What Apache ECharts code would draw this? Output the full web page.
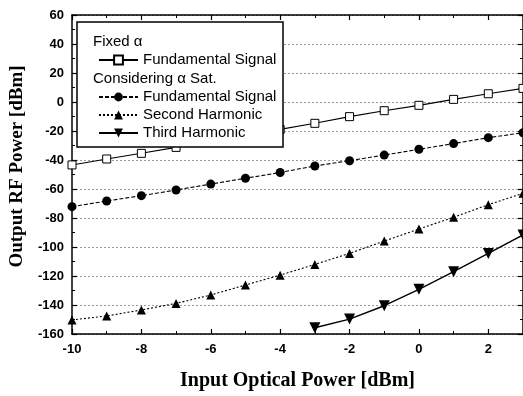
<!DOCTYPE html>
<html>
<head>
<meta charset="utf-8">
<script src="https://cdn.jsdelivr.net/npm/echarts@6/dist/echarts.min.js"></script>
<style>
  html, body { margin: 0; padding: 0; background: #fff; }
  #chart { width: 523px; height: 396px; }
</style>
</head>
<body>
<div id="chart"></div>
<script>
// input optical power [dBm]
const inputPower = [-10, -9, -8, -7, -6, -5, -4, -3, -2, -1, 0, 1, 2, 3];
// output RF power [dBm]
const fixedFundamental = [-43.4, -39.3, -35.4, -31.3, -27.2, -23.0, -18.9, -14.7, -10.1, -6.0, -2.3, 1.8, 5.7, 9.4];
const satFundamental = [-72.2, -68.3, -64.6, -60.7, -56.6, -52.6, -48.6, -44.1, -40.5, -36.6, -32.6, -28.7, -24.6, -21.2];
const satSecond = [-150.3, -147.6, -143.4, -138.9, -133.1, -126.2, -119.4, -112.0, -104.4, -95.9, -87.6, -79.5, -70.8, -63.0];
const satThird = [null, null, null, null, null, null, null, -155.7, -149.7, -140.5, -129.2, -117.0, -104.4, -91.7];

const pairs = (ys) => inputPower.map((x, i) => [x, ys[i]]).filter((p) => p[1] !== null);

const chart = echarts.init(document.getElementById("chart"));

const tickFont = {
  color: "#000",
  fontFamily: "Liberation Sans",
  fontWeight: "bold",
  fontSize: 13,
};
const titleFont = {
  color: "#000",
  fontFamily: "Liberation Serif",
  fontWeight: "bold",
  fontSize: 20,
};
const blackLine = { onZero: false, lineStyle: { color: "#000", width: 1.5 } };
const inTick = { inside: true, length: 5, lineStyle: { color: "#000", width: 1.2 } };
const inMinor = { show: true, splitNumber: 2, length: 3, lineStyle: { color: "#000" } };
const legendText = { color: "#000", fontFamily: "Liberation Sans", fontSize: 15, lineHeight: 18 };

const option = {
  animation: false,
  backgroundColor: "#fff",
  grid: { left: 72, right: 0, top: 15, bottom: 62 },
  xAxis: [
    {
      type: "value",
      min: -10,
      max: 3,
      interval: 2,
      position: "bottom",
      name: "Input Optical Power [dBm]",
      nameLocation: "middle",
      nameGap: 37,
      nameTextStyle: titleFont,
      axisLine: blackLine,
      axisTick: inTick,
      minorTick: inMinor,
      axisLabel: { ...tickFont, margin: 9, showMaxLabel: false },
      splitLine: { show: false },
    },
    {
      type: "value",
      min: -10,
      max: 3,
      interval: 2,
      position: "top",
      axisLine: blackLine,
      axisTick: inTick,
      minorTick: inMinor,
      axisLabel: { show: false },
      splitLine: { show: false },
    },
  ],
  yAxis: [
    {
      type: "value",
      min: -160,
      max: 60,
      interval: 20,
      position: "left",
      name: "Output RF Power [dBm]",
      nameLocation: "middle",
      nameGap: 44,
      nameTextStyle: { ...titleFont, fontSize: 19, padding: [0, 0, 0, 16] },
      axisLine: blackLine,
      axisTick: inTick,
      minorTick: inMinor,
      axisLabel: { ...tickFont, margin: 8 },
      splitLine: { show: true, lineStyle: { color: "#999", width: 1, type: [2, 2] } },
    },
    {
      type: "value",
      min: -160,
      max: 60,
      interval: 20,
      position: "right",
      axisLine: blackLine,
      axisTick: inTick,
      minorTick: inMinor,
      axisLabel: { show: false },
      splitLine: { show: false },
    },
  ],
  legend: [
    {
      zlevel: 1,
      z: 120,
      left: 93,
      top: 46,
      orient: "vertical",
      itemWidth: 39,
      itemHeight: 11,
      itemGap: 0,
      textStyle: legendText,
      data: ["Fundamental Signal (fixed)"],
      formatter: () => "Fundamental Signal",
    },
    {
      zlevel: 1,
      z: 120,
      left: 93,
      top: 83,
      orient: "vertical",
      itemWidth: 39,
      itemHeight: 11,
      itemGap: 0,
      textStyle: legendText,
      data: ["Fundamental Signal", "Second Harmonic", "Third Harmonic"],
    },
  ],
  graphic: {
    zlevel: 1,
    z: 100,
    elements: [
      {
        type: "rect",
        zlevel: 1,
        z: 100,
        shape: { x: 77, y: 22, width: 206, height: 125 },
        style: { fill: "#fff", stroke: "#000", lineWidth: 1.5 },
      },
      {
        type: "text",
        zlevel: 1,
        z: 130,
        left: 93,
        top: 34,
        style: { text: "Fixed α", fill: "#000", font: "15px Liberation Sans" },
      },
      {
        type: "text",
        zlevel: 1,
        z: 130,
        left: 93,
        top: 71,
        style: { text: "Considering α Sat.", fill: "#000", font: "15px Liberation Sans" },
      },
    ],
  },
  series: [
    {
      name: "Fundamental Signal (fixed)",
      type: "line",
      data: pairs(fixedFundamental),
      symbol: "rect",
      symbolSize: 8,
      itemStyle: { color: "#fff", borderColor: "#000", borderWidth: 1 },
      lineStyle: { color: "#000", width: 1.1, type: "solid" },
    },
    {
      name: "Fundamental Signal",
      type: "line",
      data: pairs(satFundamental),
      symbol: "circle",
      symbolSize: 9,
      itemStyle: { color: "#000" },
      lineStyle: { color: "#000", width: 1.1, type: [4, 2] },
    },
    {
      name: "Second Harmonic",
      type: "line",
      data: pairs(satSecond),
      symbol: "triangle",
      symbolSize: 9,
      itemStyle: { color: "#000" },
      lineStyle: { color: "#000", width: 1.1, type: [2, 2] },
    },
    {
      name: "Third Harmonic",
      type: "line",
      data: pairs(satThird),
      symbol: "triangle",
      symbolRotate: 180,
      symbolSize: 11,
      itemStyle: { color: "#000" },
      lineStyle: { color: "#000", width: 1.4, type: "solid" },
    },
  ],
};

chart.setOption(option);
</script>
</body>
</html>
